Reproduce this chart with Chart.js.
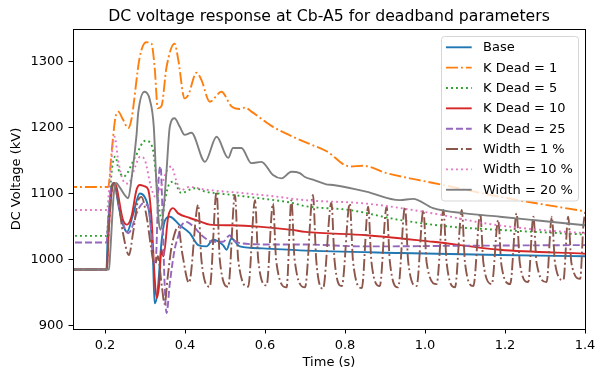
<!DOCTYPE html>
<html>
<head>
<meta charset="utf-8">
<script src="https://cdn.jsdelivr.net/npm/chart.js@4.4.0/dist/chart.umd.min.js"></script>
<style>
html,body{margin:0;padding:0;background:#ffffff;}
#wrap{width:595px;height:375px;}
</style>
</head>
<body>
<div id="wrap"><canvas id="c" width="595" height="375"></canvas></div>
<script>
// ---------- data ----------
const seriesLabels = ['Base','K Dead = 1','K Dead = 5','K Dead = 10','K Dead = 25','Width = 1 %','Width = 10 %','Width = 20 %'];

const baseT = [0.10,0.2035,0.207,0.216,0.222,0.236,0.248,0.255,0.270,0.287,0.299,0.312,0.320,0.324,0.331,0.341,0.349,0.362,0.387,0.412,0.433,0.454,0.470,0.495,0.504,0.516,0.537,0.595,0.687,0.937,1.187,1.40];
const baseV = [985,985,1040,1110,1116,1075,1048,1042,1068,1100,1095,1065,1000,934,949,1025,1058,1065,1052,1040,1022,1020,1030,1022,1015,1032,1020,1017,1014,1010,1007,1005];

const kd1T = [0.10,0.208,0.217,0.226,0.233,0.245,0.258,0.266,0.287,0.303,0.316,0.324,0.332,0.341,0.354,0.374,0.383,0.399,0.408,0.429,0.441,0.462,0.491,0.516,0.537,0.550,0.566,0.620,0.670,0.708,0.754,0.812,0.846,0.904,0.979,1.021,1.188,1.40];
const kd1V = [1110,1110,1166,1215,1224,1212,1199,1212,1307,1329,1327,1292,1229,1232,1292,1327,1303,1244,1249,1283,1272,1239,1254,1232,1228,1230,1224,1201,1186,1176,1164,1141,1142,1131,1121,1116,1095,1073];

const kd5T = [0.10,0.204,0.210,0.218,0.226,0.234,0.247,0.276,0.301,0.318,0.326,0.335,0.342,0.350,0.361,0.372,0.390,0.425,0.450,0.517,0.584,0.667,0.700,0.812,0.937,1.062,1.187,1.40];
const kd5V = [1036,1036,1080,1140,1156,1136,1126,1156,1180,1171,1136,1080,1060,1090,1115,1118,1101,1108,1103,1098,1093,1086,1081,1075,1060,1050,1045,1038];

const kd10T = [0.10,0.205,0.209,0.217,0.224,0.245,0.255,0.266,0.279,0.287,0.299,0.308,0.316,0.324,0.329,0.335,0.341,0.346,0.358,0.370,0.383,0.412,0.437,0.462,0.517,0.584,0.667,0.700,0.854,1.020,1.187,1.40];
const kd10V = [985,985,1040,1105,1116,1060,1053,1065,1106,1113,1111,1106,1065,974,942,959,1015,1005,1065,1078,1070,1063,1058,1053,1052,1050,1045,1042,1037,1027,1015,1009];

const kd25T = [0.10,0.204,0.208,0.216,0.222,0.240,0.258,0.265,0.279,0.295,0.308,0.316,0.322,0.327,0.334,0.339,0.344,0.349,0.354,0.362,0.374,0.383,0.390,0.404,0.421,0.445,0.470,0.495,0.512,0.520,0.537,0.604,0.687,0.854,1.100,1.40];
const kd25V = [1026,1026,1060,1110,1114,1065,1040,1045,1070,1085,1080,1040,995,1000,1121,1141,1065,964,919,964,1015,1035,1050,1057,1050,1035,1027,1027,1037,1030,1025,1023,1023,1020,1021,1022];

const w1T = [0.10,0.204,0.210,0.218,0.223,0.234,0.245,0.260,0.270,0.283,0.291,0.304,0.316,0.324,0.332,0.342,0.349,0.357,0.364,0.372,0.383,0.393,0.410,
  0.433,0.441,0.462, 0.479,0.487,0.508, 0.525,0.533,0.558, 0.575,0.583,0.604,
  0.620,0.628,0.654, 0.666,0.674,0.700, 0.720,0.728,0.745, 0.766,0.774,0.792,
  0.812,0.820,0.842, 0.858,0.866,0.887, 0.904,0.912,0.933, 0.950,0.958,0.979,
  0.996,1.004,1.029, 1.046,1.054,1.075, 1.092,1.100,1.121, 1.138,1.146,1.167,
  1.183,1.191,1.213, 1.229,1.237,1.258, 1.271,1.279,1.304, 1.317,1.325,1.346,
  1.358,1.366,1.388, 1.396,1.404];
const w1V = [985,985,1050,1110,1116,1085,1040,1007,1040,1090,1095,1065,1015,990,1005,960,933,975,1010,1035,1050,1010,965,
  1083,1000,959, 1103,1000,959, 1098,1000,959, 1090,1000,961,
  1085,998,958, 1090,1000,958, 1098,1000,956, 1086,998,960,
  1085,998,957, 1080,997,960, 1080,998,958, 1080,997,960,
  1075,996,963, 1075,996,958, 1075,995,960, 1070,995,963,
  1060,992,963, 1070,995,966, 1065,995,966, 1065,995,969,
  1065,995,971, 1052,1080];

const w10T = [0.10,0.205,0.213,0.224,0.233,0.245,0.258,0.275,0.288,0.300,0.315,0.326,0.340,0.355,0.366,0.378,0.390,0.410,0.450,0.540,0.620,0.700,0.850,1.020,1.150,1.270,1.40];
const w10V = [1075,1075,1130,1186,1150,1120,1115,1140,1156,1150,1110,1095,1110,1135,1141,1120,1105,1110,1106,1101,1096,1090,1085,1070,1055,1046,1040];

const w20T = [0.10,0.210,0.213,0.222,0.228,0.236,0.258,0.266,0.279,0.283,0.299,0.312,0.322,0.328,0.334,0.339,0.347,0.354,0.362,0.374,0.387,0.399,0.416,0.450,0.479,0.508,0.520,0.541,0.566,0.591,0.620,0.641,0.666,0.687,0.700,0.720,0.753,0.770,0.853,0.937,0.970,1.020,1.100,1.187,1.270,1.40];
const w20V = [985,985,1010,1100,1116,1110,1093,1121,1190,1222,1254,1242,1201,1121,1060,1045,1080,1136,1201,1214,1201,1189,1192,1148,1186,1154,1169,1169,1146,1148,1128,1123,1133,1131,1125,1121,1114,1113,1103,1090,1092,1078,1070,1065,1060,1052];

const xTicks = [0.2,0.4,0.6,0.8,1.0,1.2,1.4];
const yTicks = [900,1000,1100,1200,1300];

// ---------- styles ----------
const seriesTimes  = [baseT,kd1T,kd5T,kd10T,kd25T,w1T,w10T,w20T];
const seriesValues = [baseV,kd1V,kd5V,kd10V,kd25V,w1V,w10V,w20V];
const colors = ['#1f77b4','#ff7f0e','#2ca02c','#d62728','#9467bd','#8c564b','#e377c2','#7f7f7f'];
const DASHDOT = [12,3,1.9,3], DOTTED = [1.9,3.1], DASHED = [7,3];
const dashes = [[],DASHDOT,DOTTED,[],DASHED,DASHDOT,DOTTED,[]];
const FONT = '"DejaVu Sans", "Liberation Sans", sans-serif';
const FS = 13;

function pairs(t, v){ const n = Math.min(t.length, v.length); const out=[]; for(let i=0;i<n;i++) out.push({x:t[i], y:v[i]}); return out; }

const datasets = seriesLabels.map((lab,i)=>({
  label: lab,
  data: pairs(seriesTimes[i], seriesValues[i]),
  borderColor: colors[i],
  backgroundColor: colors[i],
  borderWidth: 1.9,
  borderDash: dashes[i],
  pointRadius: 0,
  fill: false,
  cubicInterpolationMode: 'monotone',
  order: seriesLabels.length - i,
  clip: 0
}));

const framePlugin = {
  id: 'frame',
  afterDatasetsDraw(chart){
    const {left,top,right,bottom} = chart.chartArea;
    const a = v => Math.round(v - 0.5) + 0.5;
    const ctx = chart.ctx;
    ctx.save();
    ctx.strokeStyle = '#000'; ctx.lineWidth = 1; ctx.setLineDash([]);
    ctx.strokeRect(a(left), a(top), a(right)-a(left), a(bottom)-a(top));
    ctx.restore();
  }
};

const legendPlugin = {
  id: 'mplLegend',
  afterDraw(chart){
    const ctx = chart.ctx;
    const x0 = 441.5, y0 = 36.5, w = 137, h = 164.5;
    ctx.save();
    ctx.beginPath();
    if (ctx.roundRect) ctx.roundRect(x0, y0, w, h, 3); else ctx.rect(x0,y0,w,h);
    ctx.fillStyle = 'rgba(255,255,255,0.8)';
    ctx.fill();
    ctx.strokeStyle = 'rgba(204,204,204,0.8)';
    ctx.lineWidth = 1;
    ctx.stroke();
    ctx.font = FS + 'px ' + FONT;
    ctx.textBaseline = 'middle';
    ctx.textAlign = 'left';
    chart.data.datasets.forEach((ds,i)=>{
      const y = 47.3 + i*20.35;
      ctx.beginPath();
      ctx.setLineDash(ds.borderDash || []);
      ctx.strokeStyle = ds.borderColor;
      ctx.lineWidth = ds.borderWidth;
      ctx.moveTo(446, y); ctx.lineTo(471.7, y);
      ctx.stroke();
      ctx.setLineDash([]);
      ctx.fillStyle = '#000';
      ctx.fillText(ds.label, 483, y + 0.5);
    });
    ctx.restore();
  }
};

new Chart(document.getElementById('c'), {
  type: 'line',
  data: { datasets },
  plugins: [framePlugin, legendPlugin],
  options: {
    responsive: false,
    devicePixelRatio: 1,
    animation: false,
    events: [],
    layout: { padding: { top: 0, right: 10, bottom: 0, left: 0 } },
    plugins: {
      legend: { display: false },
      tooltip: { enabled: false },
      title: {
        display: true,
        text: 'DC voltage response at Cb-A5 for deadband parameters',
        color: '#000',
        font: { family: FONT, size: 15.7, weight: 'normal', lineHeight: 1.2 },
        padding: { top: 7.5, bottom: 2.7 },
        fullSize: false
      }
    },
    scales: {
      x: {
        type: 'linear',
        min: 0.12, max: 1.4,
        afterBuildTicks: s => { s.ticks = xTicks.map(v => ({ value: v })); },
        afterFit: s => { s.height = 46; s.paddingRight = 0; s.paddingLeft = 0; },
        ticks: {
          color: '#000', font: { family: FONT, size: FS }, padding: 4,
          maxRotation: 0, autoSkip: false,
          callback: v => Number(v).toFixed(1)
        },
        grid: { drawOnChartArea: false, drawTicks: true, tickLength: 4.5, color: '#000', tickColor: '#000', tickWidth: 1 },
        border: { display: true, color: '#000', width: 1 },
        title: { display: true, text: 'Time (s)', color: '#000', font: { family: FONT, size: FS, lineHeight: 1.2 }, padding: { top: 0, bottom: 5 } }
      },
      y: {
        type: 'linear',
        min: 895, max: 1349,
        afterBuildTicks: s => { s.ticks = yTicks.map(v => ({ value: v })); },
        afterFit: s => { s.width = 73; s.paddingTop = 0; s.paddingBottom = 0; },
        ticks: { color: '#000', font: { family: FONT, size: FS }, padding: 5, callback: v => String(v) },
        grid: { drawOnChartArea: false, drawTicks: true, tickLength: 4.5, color: '#000', tickColor: '#000', tickWidth: 1 },
        border: { display: true, color: '#000', width: 1 },
        title: { display: true, text: 'DC Voltage (kV)', color: '#000', font: { family: FONT, size: FS, lineHeight: 1.2 }, padding: { top: 9, bottom: 0 } }
      }
    }
  }
});
</script>
</body>
</html>
